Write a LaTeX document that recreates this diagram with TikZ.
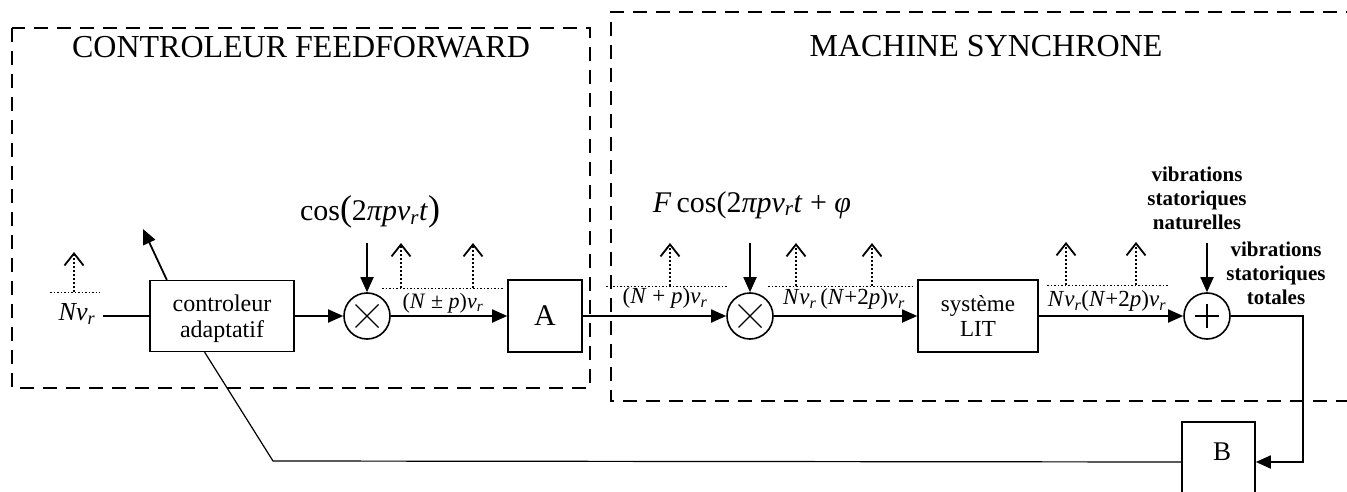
\documentclass[tikz,border=0pt]{standalone}
\usepackage{fontspec}
\setmainfont{Liberation Serif}
\usetikzlibrary{arrows.meta,calc}
\newcommand{\fs}[1]{\fontsize{#1}{#1}\selectfont}
\newcommand{\myvr}{\textit{v}\textsubscript{\textit{r}}}
\tikzset{
  blk/.style={draw, line width=1.6pt, align=center, inner sep=0pt},
  opcircle/.style={draw, circle, line width=1.6pt, minimum size=46pt, inner sep=0pt},
  sig/.style={line width=1.8pt},
  tip/.style={-{Triangle[length=15pt,width=13pt]}},
  dashbox/.style={line width=1.8pt, dash pattern=on 14pt off 9pt},
  spec/.style={line width=1.8pt, dash pattern=on 2pt off 2pt, -{Straight Barb[length=12pt,width=19pt]}},
  specbase/.style={line width=1pt, dash pattern=on 1.5pt off 2pt},
  fback/.style={line width=1.2pt},
  lab/.style={font=\fs{23}, inner sep=1pt},
}
\begin{document}
\begin{tikzpicture}[x=1pt,y=-1pt]
\useasboundingbox (0,0) rectangle (1347,492);

% dashed frames
\draw[dashbox] (12,28) rectangle (590,388);
\draw[dashbox] (1360,12) -- (611,12) -- (611,401) -- (1360,401);
\node[font=\fs{32}] (t1) at (301,47) {CONTROLEUR FEEDFORWARD};
\node[font=\fs{32}] (t2) at (986,46) {MACHINE SYNCHRONE};

% blocks
\node[blk, line width=1.2pt, minimum width=144pt, minimum height=71pt, font=\fs{24}, text depth=0pt] (ctrl) at (222,316) {controleur\\[2pt]adaptatif};
\node[blk, minimum width=74pt, minimum height=72pt, font=\fs{30}] (A) at (545,316) {A};
\node[blk, minimum width=120pt, minimum height=72pt, font=\fs{23}] (lit) at (978,316) {système\\[2pt]LIT};
\node[blk, minimum width=73pt, minimum height=80pt] (B) at (1218.5,462) {};
\node[font=\fs{27}] (Blab) at (1222,452) {B};

% operators
\node[opcircle, path picture={
  \draw[line width=1.4pt] ($(path picture bounding box.center)+(-11.5pt,-11.5pt)$) -- ($(path picture bounding box.center)+(11.5pt,11.5pt)$);
  \draw[line width=1.4pt] ($(path picture bounding box.center)+(-11.5pt,11.5pt)$) -- ($(path picture bounding box.center)+(11.5pt,-11.5pt)$);}] (m1) at (367,316) {};
\node[opcircle, path picture={
  \draw[line width=1.4pt] ($(path picture bounding box.center)+(-11.5pt,-11.5pt)$) -- ($(path picture bounding box.center)+(11.5pt,11.5pt)$);
  \draw[line width=1.4pt] ($(path picture bounding box.center)+(-11.5pt,11.5pt)$) -- ($(path picture bounding box.center)+(11.5pt,-11.5pt)$);}] (m2) at (750,316) {};
\node[opcircle, path picture={
  \draw[line width=1.4pt] ($(path picture bounding box.center)+(-12pt,0pt)$) -- ($(path picture bounding box.center)+(12pt,0pt)$);
  \draw[line width=1.4pt] ($(path picture bounding box.center)+(0pt,-12pt)$) -- ($(path picture bounding box.center)+(0pt,12pt)$);}] (pl) at (1207,316) {};

% input label
\node[font=\fs{26}, inner sep=0pt] (nvr) at (77,314) {\textit{Nv}\textsubscript{\textit{r}}};
\coordinate (nvrout) at (103,316);

% external inputs texts
\node[font=\fs{30}] (cos1) at (370,212) {cos{\fs{36}(}2\textit{πpv}\textsubscript{\textit{r}}\textit{t}{\fs{36})}};
\node[font=\fs{30}] (cos2) at (752,205) {\textit{F}\,cos(2\textit{πpv}\textsubscript{\textit{r}}\textit{t} + \textit{φ}};
\node[font=\fs{21}\bfseries, align=center] (nat) at (1197,198) {vibrations\\[3pt]statoriques\\[3pt]naturelles};
\node[font=\fs{21}\bfseries, align=center] (tot) at (1276,273) {vibrations\\[3pt]statoriques\\[3pt]totales};

% line labels
\node[lab, font=\fs{22}] (l1) at (443,303) {(\textit{N} ± \textit{p})\myvr};
\node[lab] (l2) at (665,298) {(\textit{N} + \textit{p})\myvr};
\node[lab] (l3) at (844,299) {\textit{N}\myvr\,(\textit{N}+2\textit{p})\myvr};
\node[lab] (l4) at (1107,301) {\textit{N}\myvr(\textit{N}+2\textit{p})\myvr};

% coordinates
\coordinate (in1) at (367,243);
\coordinate (in2) at (750,243);
\coordinate (in3) at (1207,243);
\coordinate (corner) at (1303,316);
\coordinate (fbc) at (273,461);
\coordinate (adapt) at (143,229);

% signal connectors
\draw[sig] (nvrout) -- (ctrl.west);
\draw[sig,tip] (ctrl.east) -- (m1.west);
\draw[sig,tip] (m1.east) -- (A.west);
\draw[sig,tip] (A.east) -- (m2.west);
\draw[sig,tip] (m2.east) -- (lit.west);
\draw[sig,tip] (lit.east) -- (pl.west);
\draw[sig,tip] (pl.east) -- (corner) |- (B.east);
\draw[sig,tip] (in1) -- (m1.north);
\draw[sig,tip] (in2) -- (m2.north);
\draw[sig,tip] (in3) -- (pl.north);
\draw[fback] (B.west) -- (fbc) -- ($(ctrl.south west)!0.38!(ctrl.south east)$);
\draw[sig,tip] ($(ctrl.north west)!0.12!(ctrl.north east)$) -- (adapt);

% spectral lines
\draw[specbase] (50,292) -- (100,292);
\draw[spec] (74,292) -- (74,252);
\draw[specbase] (382,288) -- (503,288);
\draw[spec] (401,288) -- (401,243);
\draw[spec] (473,288) -- (473,243);
\draw[specbase] (606,286) -- (727,286);
\draw[spec] (670,286) -- (670,243);
\draw[specbase] (768,286) -- (912,286);
\draw[spec] (796,286) -- (796,243);
\draw[spec] (872,286) -- (872,243);
\draw[specbase] (1047,285) -- (1168,285);
\draw[spec] (1066,285) -- (1066,242);
\draw[spec] (1136,285) -- (1136,242);
\end{tikzpicture}
\end{document}
